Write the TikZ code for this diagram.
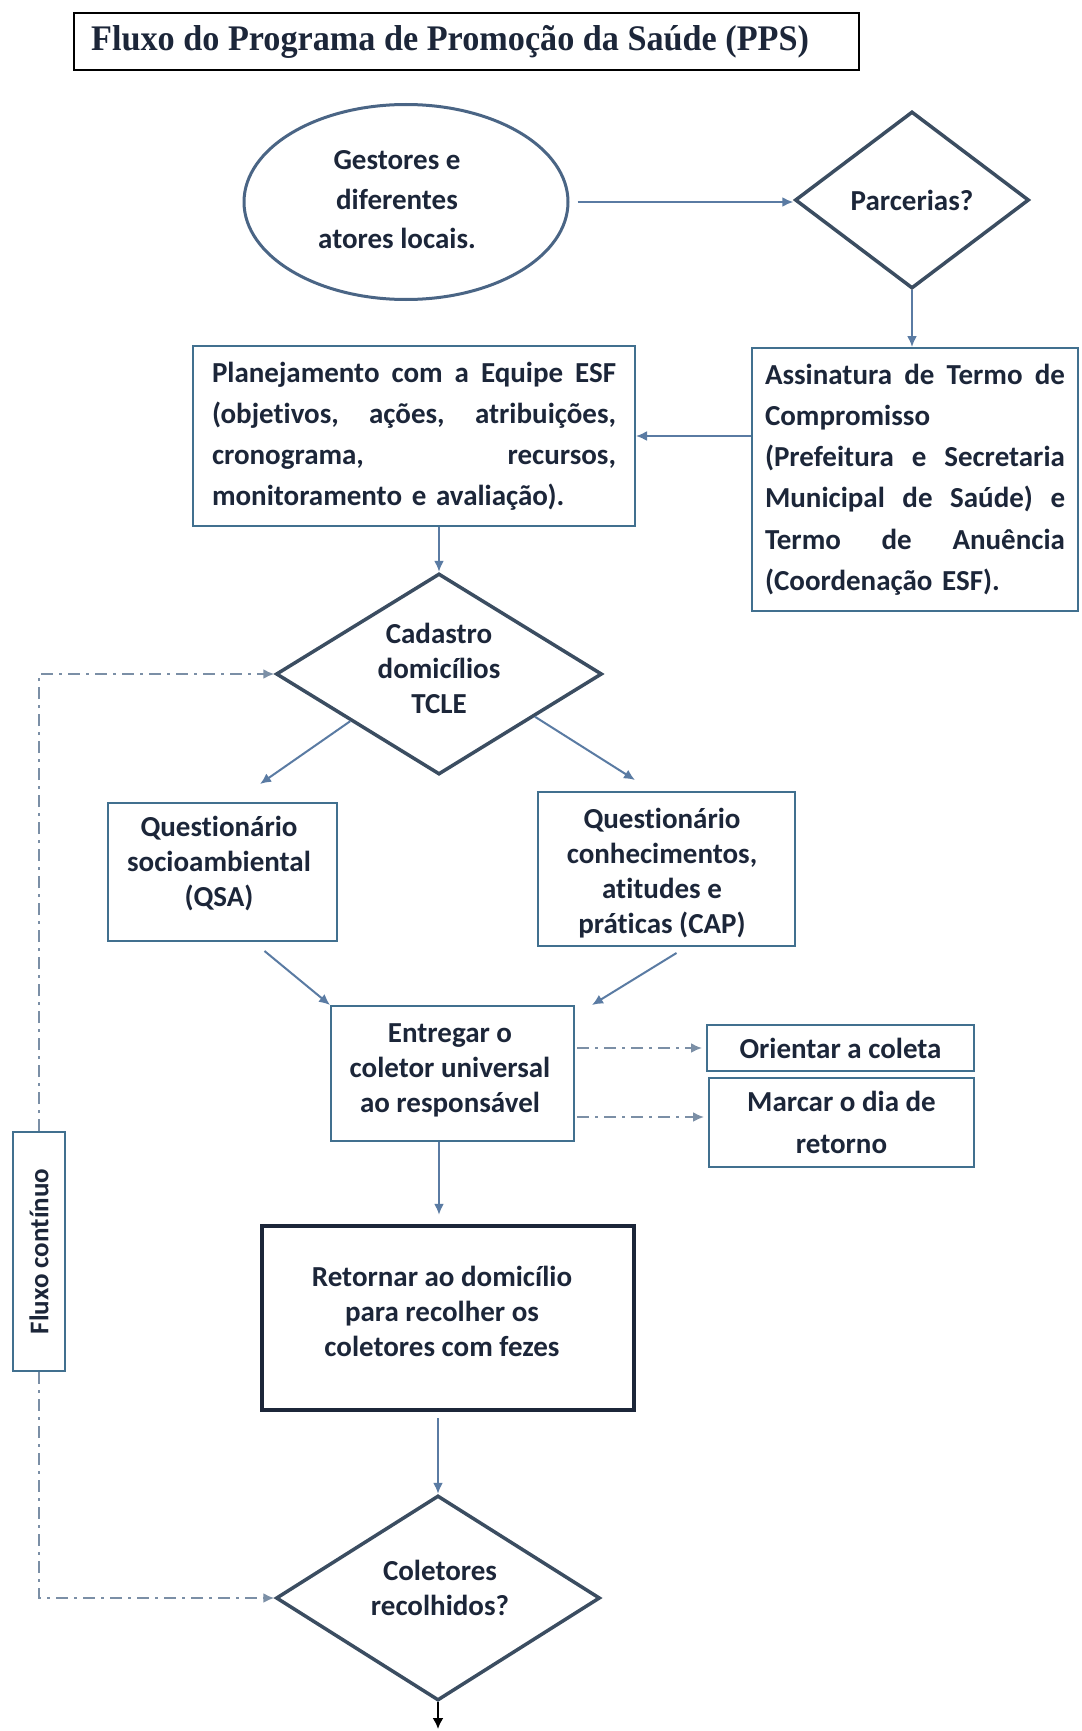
\documentclass[tikz,border=0pt]{standalone}
\usepackage{fontspec}
\setmainfont{Carlito}[Ligatures=NoCommon]
\newfontfamily\titlefont{Liberation Serif}
\usetikzlibrary{shapes.geometric,arrows.meta,calc}

\definecolor{ink}{HTML}{1C2639}
\definecolor{boxline}{HTML}{41708F}
\definecolor{dline}{HTML}{3B4D61}
\definecolor{ellline}{HTML}{4A6585}
\definecolor{arrowc}{HTML}{5A7BA3}
\definecolor{dashc}{HTML}{7B8FA6}

\newcommand\txtfont{\fontsize{29}{35}\selectfont\bfseries}
% a justified line: words spread over the full width
\newcommand\wideline[2]{\leavevmode\hbox to #1{#2}}

\tikzset{
  box/.style={draw=boxline, line width=2pt, fill=white, inner sep=0pt,
    font=\txtfont, text=ink, align=center},
  decision/.style={diamond, draw=dline, line width=3.5pt, fill=white,
    inner sep=0pt},
  label text/.style={font=\txtfont, text=ink, align=center, inner sep=0pt},
  arr/.style={draw=arrowc, line width=2pt, -{Latex[length=11pt,width=10pt]}},
  dd/.style={draw=dashc, line width=2pt,
    dash pattern=on 12pt off 6pt on 3pt off 6pt,
    -{Latex[length=11pt,width=10pt]}},
}

\begin{document}
\begin{tikzpicture}[x=1pt,y=-1pt]
\useasboundingbox[fill=white] (0,0) rectangle (1081,1731);

% title
\node[draw=black, line width=2.5pt, fill=white, minimum width=785pt,
  minimum height=57pt, inner sep=0pt] (title) at (466.5,41.5) {};
\node[anchor=west, text=ink, inner sep=0pt, xscale=0.95,
  font=\titlefont\fontsize{36}{40}\selectfont\bfseries]
  (titletext) at (91,42) {Fluxo do Programa de Promoção da Saúde (PPS)};

% top row
\node[ellipse, draw=ellline, line width=3pt, fill=white,
  minimum width=324pt, minimum height=195pt, inner sep=0pt] (ell) at (406,202) {};
\node[label text, font=\fontsize{29}{39.5}\selectfont\bfseries]
  (elltext) at (397,200) {Gestores e\\diferentes\\atores locais.};
\node[decision, minimum width=234pt, minimum height=177pt] (parc) at (912,200) {};
\node[label text] (parctext) at (parc.center) {Parcerias?};

% planning and agreement boxes
\node[box, minimum width=442pt, minimum height=180pt,
  text width=404pt, align=left, font=\fontsize{29}{41}\selectfont\bfseries]
  (plan) at (414,436)
  {\wideline{404pt}{Planejamento\hfill com\hfill a\hfill Equipe\hfill ESF}\\
   \wideline{404pt}{(objetivos,\hfill ações,\hfill atribuições,}\\
   \wideline{404pt}{cronograma,\hfill recursos,}\\
   monitoramento e avaliação).};
\node[box, minimum width=326pt, minimum height=263pt,
  text width=300pt, align=left, font=\fontsize{29}{41.2}\selectfont\bfseries]
  (assin) at (915,479.5)
  {\wideline{300pt}{Assinatura\hfill de\hfill Termo\hfill de}\\
   Compromisso\\
   \wideline{300pt}{(Prefeitura\hfill e\hfill Secretaria}\\
   \wideline{300pt}{Municipal\hfill de\hfill Saúde)\hfill e}\\
   \wideline{300pt}{Termo\hfill de\hfill Anuência}\\
   (Coordenação ESF).};

% registration
\node[decision, minimum width=326pt, minimum height=201pt] (cad) at (439,674) {};
\node[label text] (cadtext) at (439,668) {Cadastro\\domicílios\\TCLE};

% questionnaires
\node[box, minimum width=229pt, minimum height=138pt] (qsa) at (222.5,872) {};
\node[label text] (qsatext) at (219,864) {Questionário\\socioambiental\\(QSA)};
\node[box, minimum width=257pt, minimum height=154pt] (cap) at (666.5,869) {};
\node[label text] (captext) at (662,873) {Questionário\\conhecimentos,\\atitudes e\\práticas (CAP)};

% delivery
\node[box, minimum width=243pt, minimum height=135pt] (entr) at (452.5,1073.5) {};
\node[label text] (entrtext) at (450,1070) {Entregar o\\coletor universal\\ao responsável};
\node[box, minimum width=267pt, minimum height=46pt] (ori) at (840.5,1048)
  {Orientar a coleta};
\node[box, minimum width=265pt, minimum height=89pt,
  font=\fontsize{29}{42}\selectfont\bfseries] (mar) at (841.5,1122.5)
  {Marcar o dia de\\retorno};

% return
\node[box, draw=ink, line width=4.5pt, minimum width=372pt,
  minimum height=184pt] (ret) at (448,1318) {};
\node[label text] (rettext) at (442,1311)
  {Retornar ao domicílio\\para recolher os\\coletores com fezes};

% collected?
\node[decision, minimum width=324pt, minimum height=205pt] (col) at (438,1598) {};
\node[label text] (coltext) at (440,1588) {Coletores\\recolhidos?};

% continuous flow label
\node[box, minimum width=52pt, minimum height=239pt] (flux) at (39,1251.5) {};
\node[rotate=90, font=\fontsize{27}{32}\selectfont\bfseries, text=ink]
  (fluxtext) at (flux.center) {Fluxo contínuo};

% connectors
\draw[arr, shorten <=8pt] (ell.east) -- (ell.east -| parc.west);
\draw[arr] (parc.south) -- (parc.south |- assin.north);
\draw[arr] (plan.east -| assin.west) -- (plan.east);
\draw[arr] (cad.north |- plan.south) -- (cad.north);

\coordinate (qsaIn) at (260,784);
\coordinate (capIn) at (635,780);
\draw[arr] (cad.-152) -- (qsaIn);
\draw[arr] (cad.-24) -- (capIn);

\draw[arr] ([xshift=42pt,yshift=-9pt]qsa.south) -- (entr.north west);
\draw[arr] ([xshift=10pt,yshift=-6pt]cap.south) -- ([xshift=17pt]entr.north east);

\draw[dd, shorten <=2pt, shorten >=4pt] (entr.east |- ori.west) -- (ori.west);
\draw[dd, shorten <=2pt, shorten >=4pt] ([yshift=5.5pt]entr.east |- mar.west) -- ([yshift=5.5pt]mar.west);

\draw[arr] (entr.south -| cad.north) -- ([yshift=9pt]ret.north -| cad.north);
\draw[arr, shorten <=6pt] (ret.south -| col.north) -- (col.north);

\coordinate (fim) at (438,1729);
\draw[black, line width=2pt, -{Latex[length=11pt,width=11pt]}] (col.south) -- (fim);

\draw[dd] (flux.north) |- (cad.west);
\draw[dd] (flux.south) |- (col.west);
\end{tikzpicture}
\end{document}
